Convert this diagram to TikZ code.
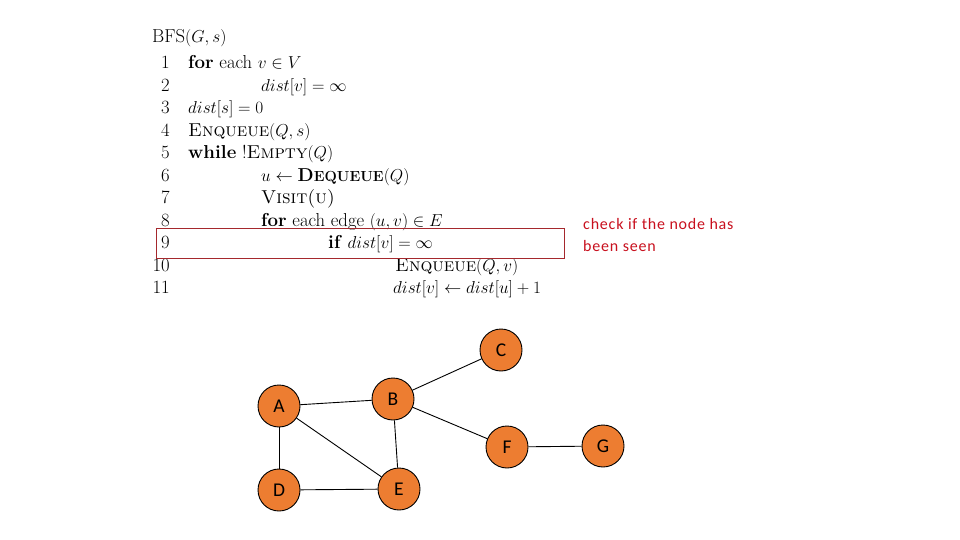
\documentclass[tikz,border=0pt]{standalone}
\usepackage{fontspec}
\newfontfamily\calibri{Carlito}
\newfontfamily\calibrisp[LetterSpace=5]{Carlito}
\definecolor{nodeorange}{RGB}{237,125,49}
\definecolor{boxred}{RGB}{165,40,45}
\definecolor{notered}{RGB}{200,16,30}
\newcommand{\bsc}[2]{\textbf{#1{\fontsize{14.6}{22}\selectfont #2}}}
\begin{document}
\begin{tikzpicture}[x=1pt,y=-1pt,
  code/.style={anchor=base west,inner sep=0pt,font=\fontsize{18.7}{22}\selectfont},
  num/.style={anchor=base east,inner sep=0pt,font=\fontsize{18.7}{22}\selectfont},
  vertex/.style={circle,draw=black,line width=0.9pt,fill=nodeorange,minimum size=42pt,inner sep=0pt,font=\calibri\fontsize{19.5}{22}\selectfont},
  edge/.style={draw=black,line width=0.9pt},
  note/.style={anchor=base west,inner sep=0pt,text=notered,font=\calibrisp\fontsize{16}{22}\selectfont}]
\useasboundingbox (0,0) rectangle (960,540);
% pseudocode
\node[code] (title) at (152,43) {BFS$(G,s)$};
\foreach \n in {1,...,11}{
  \node[num] (n\n) at (170,{69+22.47*(\n-1)}) {\n};
}
\node[code] (l1) at (188,69) {\textbf{for} each $v\in V$};
\node[code] (l2) at (261,91.47) {$dist[v]=\infty$};
\node[code] (l3) at (188,113.94) {$dist[s]=0$};
\node[code] (l4) at (188,136.41) {\textsc{Enqueue}$(Q,s)$};
\node[code] (l5) at (188,158.88) {\textbf{while} !\textsc{Empty}$(Q)$};
\node[code] (l6) at (261,181.35) {$u\leftarrow{}$\bsc{D}{EQUEUE}$(Q)$};
\node[code] (l7) at (261,203.82) {\textsc{Visit(u)}};
\node[code] (l8) at (261,226.29) {\textbf{for} each edge $(u,v)\in E$};
\node[code] (l9) at (328,248.76) {\textbf{if} $dist[v]=\infty$};
\node[code] (l10) at (395,271.23) {\textsc{Enqueue}$(Q,v)$};
\node[code] (l11) at (393,293.7) {$dist[v]\leftarrow dist[u]+1$};
% highlight box
\draw[boxred,line width=0.8pt] (156.5,228.5) rectangle (564.5,258);
\node[note] (note1) at (583,229.5) {check if the node has};
\node[note] (note2) at (583,251.5) {been seen};
% graph
\node[vertex] (A) at (279,406) {A};
\node[vertex] (B) at (393,399) {B};
\node[vertex] (C) at (501,350) {C};
\node[vertex] (D) at (279,490) {D};
\node[vertex] (E) at (399,489) {E};
\node[vertex] (F) at (507,447) {F};
\node[vertex] (G) at (603,446) {G};
\draw[edge] (A) -- (B);
\draw[edge] (A) -- (D);
\draw[edge] (A) -- (E);
\draw[edge] (B) -- (E);
\draw[edge] (B) -- (C);
\draw[edge] (B) -- (F);
\draw[edge] (D) -- (E);
\draw[edge] (F) -- (G);
\end{tikzpicture}
\end{document}
